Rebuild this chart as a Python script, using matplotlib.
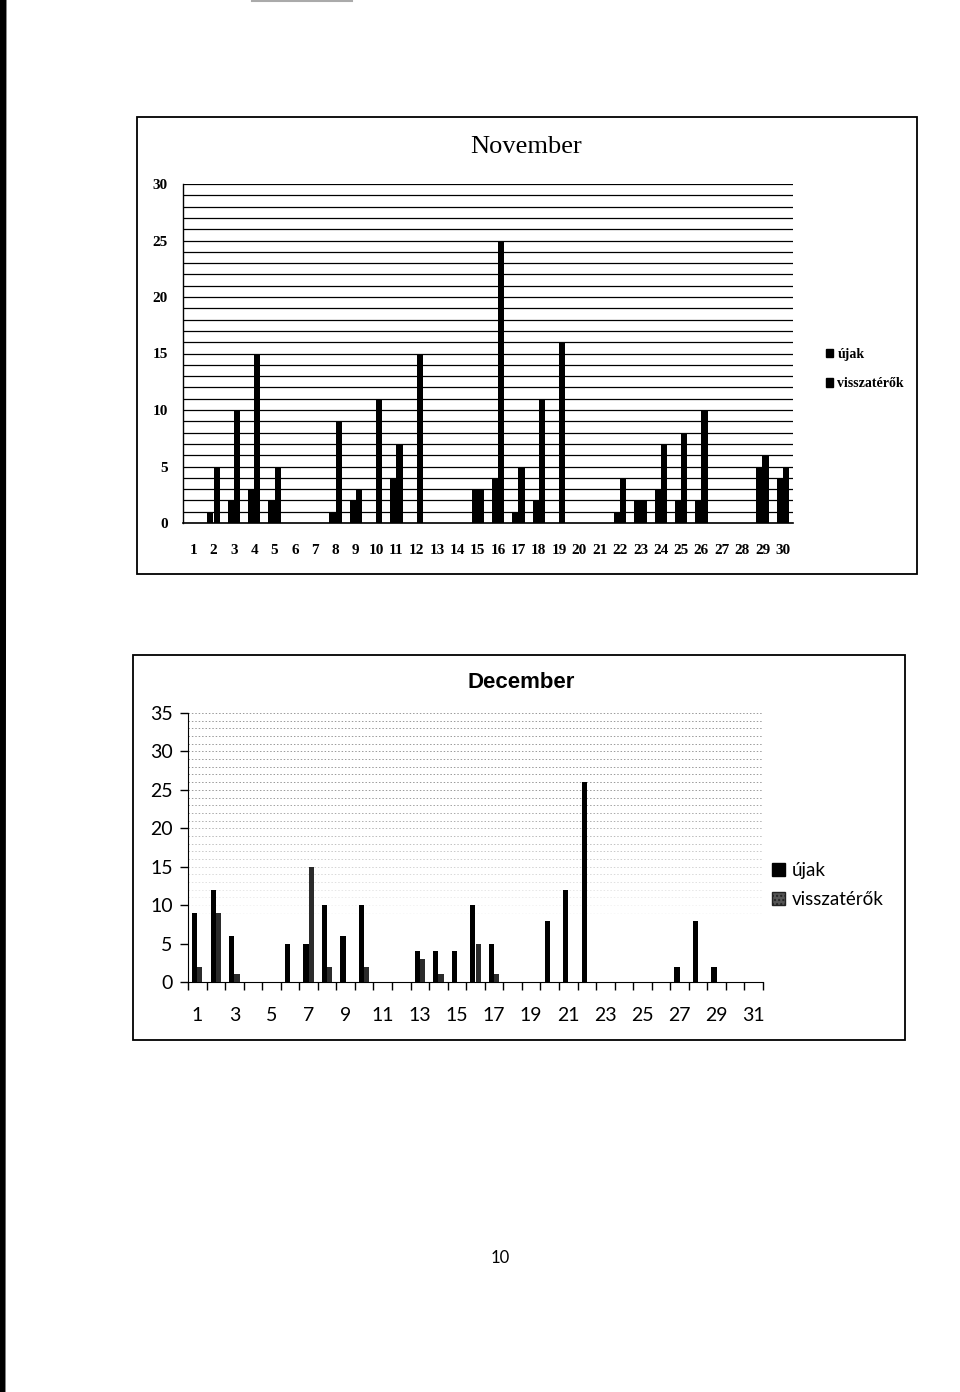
import matplotlib
matplotlib.use("Agg")
import matplotlib.pyplot as plt
from matplotlib.patches import Rectangle
from matplotlib.lines import Line2D
import numpy as np

# November data (day of month, two series)
nov_days = list(range(1, 31))
nov_ujak = [0, 1, 2, 3, 2, 0, 0, 1, 2, 0, 4, 0, 0, 0, 3,
            4, 1, 2, 0, 0, 0, 1, 2, 3, 2, 2, 0, 0, 5, 4]
nov_vissza = [0, 5, 10, 15, 5, 0, 0, 9, 3, 11, 7, 15, 0, 0, 3,
              25, 5, 11, 16, 0, 0, 4, 2, 7, 8, 10, 0, 0, 6, 5]

# December data
dec_days = list(range(1, 32))
dec_ujak = [9, 12, 6, 0, 0, 5, 5, 10, 6, 10, 0, 0, 4, 4, 4, 10,
            5, 0, 0, 8, 12, 26, 0, 0, 0, 0, 2, 8, 2, 0, 0]
dec_vissza = [2, 9, 1, 0, 0, 0, 15, 2, 0, 2, 0, 0, 3, 1, 0, 5,
              1, 0, 0, 0, 0, 0, 0, 0, 0, 0, 0, 0, 0, 0, 0]

labels = ["újak", "visszatérők"]

W, H = 960, 1392
fig = plt.figure(figsize=(W / 100, H / 100), dpi=100)


def box(x0, y0, x1, y1):
    return [x0 / W, 1 - y1 / H, (x1 - x0) / W, (y1 - y0) / H]


def fx(x):
    return x / W


def fy(y):
    return 1 - y / H


SERIF = "Liberation Serif"
SANS = "Lato"

# scan artefacts: dark edge on the left, grey line on top
fig.add_artist(Line2D([fx(3), fx(2)], [fy(0), fy(1392)], color="black", lw=5))
fig.add_artist(Line2D([fx(252), fx(352)], [fy(1), fy(1)], color="#aaaaaa", lw=1.5))

# ---------------- November ----------------
fig.add_artist(Rectangle((fx(137), fy(574)), fx(917) - fx(137), fy(117) - fy(574),
                         fill=False, edgecolor="black", lw=1.3))
fig.text(fx(526), fy(147), "November", family=SERIF, fontsize=19,
         ha="center", va="center")

ax1 = fig.add_axes(box(183, 184, 793, 523))
x = np.arange(len(nov_days))
w = 0.3
ax1.bar(x - w / 2, nov_ujak, w, color="black", label=labels[0], zorder=3)
ax1.bar(x + w / 2, nov_vissza, w, color="black", label=labels[1], zorder=3)
ax1.set_xlim(-0.5, len(nov_days) - 0.5)
ax1.set_ylim(0, 30)
ax1.set_yticks(range(0, 31, 5))
ax1.set_yticks(range(0, 31), minor=True)
ax1.grid(axis="y", which="both", color="black", lw=0.9, zorder=0)
ax1.set_xticks(x)
ax1.set_xticklabels([str(d) for d in nov_days])
ax1.tick_params(axis="both", which="both", length=0)
ax1.tick_params(axis="x", pad=15)
ax1.tick_params(axis="y", pad=11)
for lab in ax1.get_xticklabels() + ax1.get_yticklabels():
    lab.set_family(SERIF)
    lab.set_fontweight("bold")
    lab.set_fontsize(11)
for s in ["top", "right"]:
    ax1.spines[s].set_visible(False)
ax1.spines["left"].set_linewidth(1.0)
ax1.spines["bottom"].set_linewidth(1.2)

leg1 = fig.legend(handles=[Rectangle((0, 0), 1, 1, color="black"),
                           Rectangle((0, 0), 1, 1, color="black")],
                  labels=labels, loc="center left",
                  bbox_to_anchor=(fx(813), fy(369)), frameon=False,
                  prop={"family": SERIF, "weight": "bold", "size": 10},
                  handlelength=0.55, handleheight=0.55, handletextpad=0.3,
                  labelspacing=1.2)

# ---------------- December ----------------
fig.add_artist(Rectangle((fx(133), fy(1040)), fx(905) - fx(133), fy(655) - fy(1040),
                         fill=False, edgecolor="black", lw=1.3))
fig.text(fx(521), fy(682), "December", family="Liberation Sans", fontweight="bold",
         fontsize=16, ha="center", va="center")

ax2 = fig.add_axes(box(188, 713, 763, 982))
x2 = np.arange(len(dec_days))
w2 = 0.28
ax2.bar(x2 - w2 / 2, dec_ujak, w2, color="black", label=labels[0], zorder=3)
ax2.bar(x2 + w2 / 2, dec_vissza, w2, color="#2b2b2b", label=labels[1], zorder=3)
ax2.set_xlim(-0.5, len(dec_days) - 0.5)
ax2.set_ylim(0, 35)
ax2.set_yticks(range(0, 36, 5))
# faint scanned background lines
for v in range(1, 36):
    a = min(0.75, max(0.0, (v - 8) / 22))
    if a > 0:
        ax2.axhline(v, color="#777777", lw=0.7, ls=(0, (1.5, 2)), alpha=a, zorder=0)
ax2.set_xticks(x2[::2])
ax2.set_xticklabels([str(d) for d in dec_days[::2]])
ax2.set_xticks(np.arange(-0.5, len(dec_days)), minor=True)
ax2.tick_params(axis="x", which="major", length=0, pad=18)
ax2.tick_params(axis="x", which="minor", length=6, width=1.0, direction="out")
ax2.tick_params(axis="y", length=6, width=1.0, direction="out", pad=5)
for lab in ax2.get_xticklabels() + ax2.get_yticklabels():
    lab.set_family(SANS)
    lab.set_fontsize(14)
for s in ["top", "right"]:
    ax2.spines[s].set_visible(False)

leg2 = fig.legend(handles=[Rectangle((0, 0), 1, 1, color="black"),
                           Rectangle((0, 0), 1, 1, facecolor="#555555",
                                     edgecolor="#222222", hatch="....")],
                  labels=labels, loc="center left",
                  bbox_to_anchor=(fx(755), fy(885)), frameon=False,
                  prop={"family": SANS, "size": 13.5},
                  handlelength=0.7, handleheight=0.7, handletextpad=0.35,
                  labelspacing=0.6)

# page number
fig.text(fx(500), fy(1258), "10", family=SANS, fontsize=12, ha="center", va="center")

fig.savefig("out.png", dpi=100)
